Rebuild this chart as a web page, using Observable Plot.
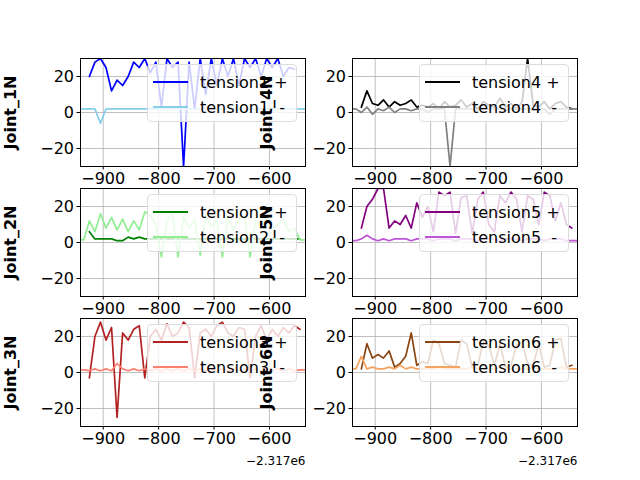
<!DOCTYPE html>
<html>
<head>
<meta charset="utf-8">
<script src="https://cdn.jsdelivr.net/npm/d3@7"></script>
<script src="https://cdn.jsdelivr.net/npm/@observablehq/plot@0.6"></script>
<style>
  body { margin: 0; background: #fff; font-family: "DejaVu Sans", sans-serif; }
  #chart { position: relative; width: 640px; height: 480px; overflow: hidden; }
  .panel { position: absolute; }
  .legend { position: absolute; width: 150px; height: 58px; background: rgba(255,255,255,0.8);
            border: 1px solid #ddd; border-radius: 4px; box-sizing: border-box; font-size: 16px; }
  .legend .row { position: absolute; left: 5px; height: 20px; display: flex; align-items: center; white-space: pre; }
  .legend .sw { width: 35px; height: 2px; margin-right: 12px; }
  .ylab { position: absolute; font-weight: bold; font-size: 16px; transform: rotate(-90deg); white-space: nowrap; }
  .off { position: absolute; font-size: 12px; }
</style>
</head>
<body>
<div id="chart"></div>
<script>
// time samples (offset -2.317e6)
const xs = [-945,-935,-925,-915,-905,-895,-885,-875,-865,-855,-845,-835,-825,-815,-805,-795,-785,-775,-765,-755,
  -745,-735,-725,-715,-705,-695,-685,-675,-665,-655,-645,-635,-625,-615,-605,-595,-585,-575,-565,-555,-545,-535,-525]

const t1p = [null,null,20,28,30,25,12,18,15,20, 28,25,30,22,28,3,30,25,28,-30, 28,2,30,10,30,15,30,20,30,15, 30,25,30,20,30,25,30,20,25,24, null,null,null]
const t1m = [2,2,2,2,-6,2,2,2,2,2, 2,2,2,2,2,2,2,2,2,2, 2,2,2,2,2,2,2,2,2,2, 2,2,2,2,2,2,2,2,2,2, 2,2,2]
const t2p = [null,null,6,2,2,2,2,1,1,3, 2,3,2,2,2,2,2,2,2,2, 2,2,2,2,2,2,2,2,2,2, 2,2,2,2,2,2,2,2,2,2, 2,null,null]
const t2m = [1.5,1.5,12,6,16,8,14,7,13,6, 12,7,17,15,10,-8,12,16,-8,14, 8,13,-7,15,9,12,-8,14,7,13, 15,-8,12,9,14,7,10,13,6,8, 1.5,1.5,1.5]
const t3p = [null,null,-3,20,28,18,25,-25,22,18, 24,26,-3,20,24,18,27,20,22,28, 25,-3,22,24,20,26,28,22,20,25, 24,-3,20,26,18,24,20,25,22,26, 24,null,null]
const t3m = [1.5,1.5,1,2,1,2,1,5,2,1, 2,1,2,1,2,1,2,1,2,1, 2,1,2,1,2,1,2,1,2,1, 2,1,2,1,2,1,2,1,2,1, 1.5,1.5,1.5]
const t4p = [null,null,3,12,5,4,7,3,6,4, 5,7,3,4,3,5,2,6,3,4, 7,3,5,2,6,4,3,8,3,5, 2,6,30,4,3,6,2,5,6,3, 2,null,null]
const t4m = [2,2,0,3,-1,2,1,3,0,2, 2,1,2,2,0,2,2,2,-30,2, 2,2,2,1,2,2,2,2,1,2, 2,2,2,2,2,2,-1,2,2,2, 2,2,2]
const t5p = [null,null,8,20,24,30,30,8,12,10, 15,8,22,14,20,6,28,26,28,5, 25,26,5,24,28,10,6,26,22,28, 24,6,26,24,10,28,26,12,22,10, 8,null,null]
const t5m = [1,1,2,4,2,1,2,1,2,2, 2,1,2,2,2,1,2,2,2,1, 2,2,2,1,2,2,2,1,2,2, 2,1,2,2,2,1,2,2,2,1, 1,1,1]
const t6p = [null,null,2,16,8,10,8,12,3,5, 9,22,4,6,5,18,16,5,4,3, 18,16,3,4,17,15,4,16,3,4, 15,17,5,4,16,3,4,18,19,3, 4,null,null]
const t6m = [2,2,9,2,3,2,2,3,2,4, 2,3,2,2,2,2,3,2,2,2, 2,2,3,2,2,2,2,3,2,2, 2,2,2,3,2,2,2,2,3,2, 2,2,2]

const panels = [
  {label: "Joint_1N", n: 1, p: t1p, m: t1m, cp: "#0000ff", cm: "#87ceeb", col: 0, row: 0},
  {label: "Joint_2N", n: 2, p: t2p, m: t2m, cp: "#008000", cm: "#90ee90", col: 0, row: 1},
  {label: "Joint_3N", n: 3, p: t3p, m: t3m, cp: "#b22222", cm: "#fa8072", col: 0, row: 2},
  {label: "Joint_4N", n: 4, p: t4p, m: t4m, cp: "#000000", cm: "#808080", col: 1, row: 0},
  {label: "Joint_5N", n: 5, p: t5p, m: t5m, cp: "#800080", cm: "#ba55d3", col: 1, row: 1},
  {label: "Joint_6N", n: 6, p: t6p, m: t6m, cp: "#8b4513", cm: "#f4a460", col: 1, row: 2},
]

const colLeft = [80, 352], rowTop = [58, 188, 318]
const W = 225, H = 108, ml = 60, mr = 5, mt = 5, mb = 30
const chart = document.getElementById("chart")

// draw panels first, then labels/legends on top
for (const pnl of panels) {
  const left = colLeft[pnl.col], top = rowTop[pnl.row]
  const fig = Plot.plot({
    width: W + ml + mr, height: H + mt + mb,
    marginLeft: ml, marginRight: mr, marginTop: mt, marginBottom: mb,
    style: {fontSize: "16px", fontFamily: "DejaVu Sans", color: "#000", background: "transparent", overflow: "visible"},
    x: {domain: [-941, -535], label: null},
    y: {domain: [-30, 30], label: null},
    marks: [
      Plot.gridX([-900, -800, -700, -600], {stroke: "#b0b0b0", strokeOpacity: 1, strokeWidth: 0.8}),
      Plot.gridY([-20, 0, 20], {stroke: "#b0b0b0", strokeOpacity: 1, strokeWidth: 0.8}),
      Plot.line(xs.map((x, i) => ({x, y: pnl.p[i]})), {x: "x", y: "y", stroke: pnl.cp, strokeWidth: 1.7, clip: true}),
      Plot.line(xs.map((x, i) => ({x, y: pnl.m[i]})), {x: "x", y: "y", stroke: pnl.cm, strokeWidth: 1.7, clip: true}),
      Plot.axisX({ticks: [-900, -800, -700, -600], tickSize: 3.5, tickPadding: 3}),
      Plot.axisY({ticks: [-20, 0, 20], tickSize: 3.5, tickPadding: 3}),
      Plot.frame({stroke: "#000", strokeWidth: 1})
    ]
  })
  const div = document.createElement("div")
  div.className = "panel"
  div.style.left = (left - ml) + "px"
  div.style.top = (top - mt) + "px"
  div.appendChild(fig)
  chart.appendChild(div)
}

for (const pnl of panels) {
  const left = colLeft[pnl.col], top = rowTop[pnl.row]
  const lg = document.createElement("div")
  lg.className = "legend"
  lg.style.left = (left + 67) + "px"
  lg.style.top = (top + 6) + "px"
  lg.innerHTML =
    `<div class="row" style="top:7px"><div class="sw" style="background:${pnl.cp}"></div>tension${pnl.n} +</div>` +
    `<div class="row" style="top:32px"><div class="sw" style="background:${pnl.cm}"></div>tension${pnl.n}  -</div>`
  chart.appendChild(lg)

  const yl = document.createElement("div")
  yl.className = "ylab"
  yl.textContent = pnl.label
  chart.appendChild(yl)
  const cx = pnl.col === 0 ? 10 : 266
  const w = yl.offsetWidth, h = yl.offsetHeight
  yl.style.left = (cx - w / 2) + "px"
  yl.style.top = (top + H / 2 - h / 2) + "px"
}

for (const c of [0, 1]) {
  const off = document.createElement("div")
  off.className = "off"
  off.textContent = "\u22122.317e6"
  chart.appendChild(off)
  off.style.left = (colLeft[c] + W - off.offsetWidth) + "px"
  off.style.top = "454px"
}
</script>
</body>
</html>
